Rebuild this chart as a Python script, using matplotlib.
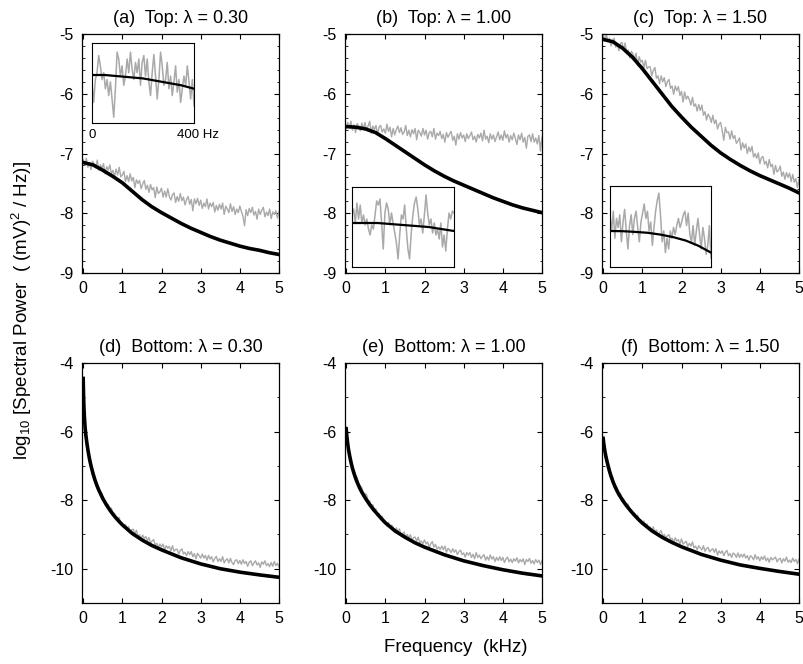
import numpy as np
import matplotlib
matplotlib.use("Agg")
import matplotlib.pyplot as plt
from matplotlib.ticker import MultipleLocator

plt.rcParams.update({
    "font.family": ["Liberation Sans", "DejaVu Sans"],
    "mathtext.fontset": "custom",
    "mathtext.rm": "Liberation Sans",
    "mathtext.it": "Liberation Sans:italic",
    "axes.unicode_minus": False,
    "font.size": 11,
    "xtick.direction": "in", "ytick.direction": "in",
    "xtick.top": True, "ytick.right": True,
    "axes.linewidth": 0.9,
})

# ---- measured spectra (grey), sampled every 0.04 kHz ----
freq = np.linspace(0, 5, 126)

spec_a = [-7.10, -7.19, -7.08, -7.23, -7.16, -7.27, -7.13, -7.18, -7.24, -7.11,
          -7.28, -7.19, -7.25, -7.17, -7.34, -7.22, -7.28, -7.19, -7.34, -7.28,
          -7.39, -7.26, -7.36, -7.23, -7.39, -7.36, -7.30, -7.47, -7.37, -7.47,
          -7.34, -7.46, -7.40, -7.57, -7.44, -7.50, -7.45, -7.59, -7.51, -7.45,
          -7.60, -7.53, -7.65, -7.52, -7.61, -7.57, -7.74, -7.56, -7.67, -7.64,
          -7.58, -7.73, -7.63, -7.73, -7.59, -7.72, -7.78, -7.69, -7.66, -7.82,
          -7.72, -7.80, -7.67, -7.79, -7.73, -7.86, -7.77, -7.72, -7.85, -7.77,
          -7.96, -7.76, -7.84, -7.75, -7.87, -7.78, -7.92, -7.83, -7.89, -7.76,
          -7.93, -7.83, -7.89, -7.82, -7.98, -7.87, -7.95, -7.85, -7.93, -7.83,
          -8.02, -7.88, -7.93, -7.99, -7.84, -7.97, -7.89, -8.02, -7.93, -7.99,
          -7.88, -7.97, -8.05, -8.21, -7.94, -8.04, -7.92, -7.99, -7.90, -8.03,
          -7.97, -8.10, -7.93, -8.02, -7.95, -7.90, -8.06, -7.98, -8.04, -7.93,
          -8.09, -7.98, -8.02, -7.96, -8.08, -7.97]
spec_b = [-6.59, -6.48, -6.57, -6.46, -6.61, -6.52, -6.65, -6.50, -6.54, -6.62,
          -6.49, -6.59, -6.48, -6.61, -6.54, -6.46, -6.66, -6.54, -6.60, -6.53,
          -6.68, -6.56, -6.53, -6.64, -6.59, -6.66, -6.51, -6.63, -6.56, -6.72,
          -6.58, -6.69, -6.60, -6.54, -6.65, -6.57, -6.68, -6.64, -6.53, -6.70,
          -6.61, -6.72, -6.60, -6.67, -6.58, -6.77, -6.61, -6.65, -6.71, -6.58,
          -6.69, -6.61, -6.76, -6.65, -6.63, -6.72, -6.58, -6.76, -6.66, -6.70,
          -6.63, -6.75, -6.68, -6.81, -6.65, -6.73, -6.67, -6.63, -6.78, -6.71,
          -6.86, -6.67, -6.76, -6.65, -6.74, -6.69, -6.80, -6.67, -6.75, -6.70,
          -6.64, -6.77, -6.71, -6.81, -6.68, -6.74, -6.66, -6.79, -6.61, -6.76,
          -6.71, -6.82, -6.67, -6.76, -6.69, -6.80, -6.72, -6.64, -6.77, -6.69,
          -6.78, -6.62, -6.74, -6.68, -6.81, -6.70, -6.77, -6.66, -6.75, -6.85,
          -6.69, -6.77, -6.66, -6.81, -6.73, -6.91, -6.71, -6.69, -6.80, -6.67,
          -6.81, -6.74, -6.84, -6.70, -6.96, -6.73]
spec_c = [-5.01, -5.12, -5.00, -5.13, -5.07, -5.20, -5.11, -5.07, -5.22, -5.17,
          -5.28, -5.16, -5.14, -5.26, -5.15, -5.33, -5.27, -5.40, -5.29, -5.33,
          -5.42, -5.32, -5.53, -5.38, -5.47, -5.44, -5.57, -5.44, -5.58, -5.55,
          -5.55, -5.70, -5.61, -5.56, -5.74, -5.70, -5.83, -5.70, -5.80, -5.73,
          -5.88, -5.80, -5.76, -5.91, -5.87, -6.01, -5.87, -5.95, -5.88, -6.03,
          -5.96, -6.14, -5.97, -6.09, -6.04, -6.10, -6.19, -6.06, -6.21, -6.17,
          -6.29, -6.18, -6.28, -6.19, -6.36, -6.30, -6.44, -6.34, -6.39, -6.48,
          -6.36, -6.50, -6.44, -6.59, -6.51, -6.48, -6.62, -6.78, -6.56, -6.65,
          -6.64, -6.76, -6.62, -6.75, -6.70, -6.83, -6.79, -6.74, -6.94, -6.82,
          -6.91, -6.84, -7.00, -6.89, -6.97, -6.88, -7.06, -7.00, -7.08, -6.99,
          -7.17, -7.07, -7.05, -7.18, -7.13, -7.24, -7.10, -7.22, -7.18, -7.35,
          -7.20, -7.31, -7.28, -7.21, -7.38, -7.31, -7.43, -7.32, -7.40, -7.33,
          -7.47, -7.35, -7.48, -7.42, -7.57, -7.44]
spec_d = [-4.50, -5.65, -6.21, -6.47, -6.88, -7.01, -7.26, -7.34, -7.52, -7.57,
          -7.75, -7.76, -7.82, -8.00, -8.01, -8.16, -8.12, -8.26, -8.23, -8.38,
          -8.39, -8.54, -8.51, -8.51, -8.70, -8.66, -8.79, -8.71, -8.82, -8.77,
          -8.94, -8.86, -8.85, -8.99, -8.88, -9.06, -9.01, -9.14, -9.02, -9.12,
          -9.06, -9.18, -9.09, -9.26, -9.19, -9.15, -9.31, -9.26, -9.38, -9.28,
          -9.37, -9.28, -9.46, -9.33, -9.40, -9.35, -9.48, -9.33, -9.49, -9.44,
          -9.43, -9.57, -9.47, -9.42, -9.57, -9.52, -9.62, -9.50, -9.59, -9.50,
          -9.65, -9.56, -9.71, -9.55, -9.62, -9.69, -9.57, -9.69, -9.61, -9.75,
          -9.61, -9.72, -9.65, -9.80, -9.70, -9.64, -9.79, -9.71, -9.79, -9.65,
          -9.83, -9.75, -9.71, -9.83, -9.70, -9.82, -9.88, -9.76, -9.74, -9.85,
          -9.76, -9.87, -9.74, -9.85, -9.79, -9.93, -9.81, -9.77, -9.91, -9.83,
          -9.77, -9.89, -9.83, -9.96, -9.80, -9.87, -9.77, -9.91, -9.85, -9.94,
          -9.82, -9.93, -9.79, -9.91, -9.84, -9.95]
spec_e = [-5.85, -6.33, -6.65, -6.77, -7.03, -7.12, -7.29, -7.34, -7.53, -7.58,
          -7.64, -7.81, -7.81, -7.84, -8.02, -8.02, -8.17, -8.13, -8.27, -8.25,
          -8.45, -8.40, -8.51, -8.47, -8.65, -8.61, -8.76, -8.65, -8.78, -8.73,
          -8.79, -8.93, -8.81, -8.92, -8.84, -9.00, -8.97, -8.93, -9.08, -9.00,
          -9.10, -9.01, -9.18, -9.09, -9.08, -9.19, -9.08, -9.25, -9.19, -9.27,
          -9.16, -9.28, -9.22, -9.38, -9.27, -9.21, -9.37, -9.29, -9.43, -9.36,
          -9.44, -9.34, -9.44, -9.34, -9.52, -9.41, -9.45, -9.53, -9.42, -9.52,
          -9.45, -9.59, -9.50, -9.46, -9.59, -9.54, -9.66, -9.53, -9.60, -9.53,
          -9.67, -9.58, -9.71, -9.53, -9.67, -9.60, -9.71, -9.64, -9.59, -9.75,
          -9.65, -9.75, -9.60, -9.72, -9.65, -9.79, -9.67, -9.76, -9.65, -9.76,
          -9.67, -9.82, -9.72, -9.66, -9.80, -9.72, -9.82, -9.71, -9.78, -9.68,
          -9.83, -9.73, -9.80, -9.71, -9.88, -9.73, -9.79, -9.70, -9.84, -9.76,
          -9.86, -9.73, -9.82, -9.75, -9.88, -9.76]
spec_f = [-6.15, -6.56, -6.70, -6.94, -7.03, -7.26, -7.32, -7.53, -7.58, -7.66,
          -7.82, -7.80, -7.97, -7.96, -8.13, -8.11, -8.12, -8.29, -8.28, -8.42,
          -8.38, -8.51, -8.44, -8.62, -8.58, -8.68, -8.61, -8.73, -8.69, -8.86,
          -8.78, -8.91, -8.78, -8.93, -8.87, -9.03, -8.95, -8.89, -9.05, -9.00,
          -9.11, -9.04, -9.01, -9.15, -9.11, -9.23, -9.10, -9.20, -9.15, -9.28,
          -9.13, -9.28, -9.24, -9.20, -9.35, -9.26, -9.34, -9.22, -9.39, -9.34,
          -9.45, -9.33, -9.39, -9.45, -9.33, -9.49, -9.41, -9.38, -9.51, -9.45,
          -9.42, -9.52, -9.42, -9.60, -9.48, -9.55, -9.48, -9.62, -9.52, -9.47,
          -9.62, -9.56, -9.67, -9.54, -9.58, -9.67, -9.54, -9.67, -9.58, -9.66,
          -9.57, -9.69, -9.62, -9.75, -9.62, -9.66, -9.74, -9.59, -9.72, -9.65,
          -9.77, -9.65, -9.73, -9.63, -9.77, -9.69, -9.81, -9.67, -9.74, -9.70,
          -9.66, -9.80, -9.72, -9.70, -9.83, -9.71, -9.78, -9.66, -9.81, -9.75,
          -9.82, -9.69, -9.79, -9.73, -9.85, -9.72]

# ---- model curves (black) ----
fit_f_top = [0, 0.25, 0.5, 0.75, 1, 1.25, 1.5, 1.75, 2, 2.25, 2.5,
             2.75, 3, 3.25, 3.5, 3.75, 4, 4.25, 4.5, 4.75, 5]
fit_a = [-7.15, -7.19, -7.28, -7.38, -7.49, -7.63, -7.77, -7.89, -7.99, -8.08, -8.17,
         -8.25, -8.32, -8.39, -8.45, -8.50, -8.55, -8.59, -8.62, -8.66, -8.69]
fit_b = [-6.55, -6.56, -6.59, -6.65, -6.75, -6.86, -6.97, -7.08, -7.19, -7.29, -7.38,
         -7.46, -7.53, -7.60, -7.67, -7.74, -7.80, -7.86, -7.91, -7.95, -7.99]
fit_c = [-5.09, -5.13, -5.24, -5.39, -5.58, -5.79, -6.00, -6.21, -6.39, -6.56, -6.71,
         -6.86, -6.99, -7.10, -7.20, -7.29, -7.37, -7.44, -7.51, -7.58, -7.66]
fit_f_bot = [0, 0.01, 0.02, 0.03, 0.05, 0.07, 0.1, 0.13, 0.16, 0.2, 0.25, 0.3, 0.35, 0.4,
             0.5, 0.6, 0.7, 0.8, 0.9, 1.0, 1.25, 1.5, 1.75, 2.0, 2.5, 3.0, 3.5, 4.0, 4.5, 5.0]
fit_d = [-4.45, -4.95, -5.30, -5.55, -5.90, -6.12, -6.38, -6.60, -6.79, -7.00, -7.22, -7.41,
         -7.57, -7.71, -7.95, -8.15, -8.32, -8.47, -8.60, -8.72, -8.97, -9.16, -9.32, -9.45,
         -9.68, -9.86, -10.00, -10.10, -10.18, -10.25]
fit_e = [-5.92, -6.05, -6.17, -6.27, -6.45, -6.59, -6.77, -6.93, -7.07, -7.22, -7.39, -7.53,
         -7.66, -7.77, -7.96, -8.13, -8.28, -8.41, -8.54, -8.66, -8.90, -9.08, -9.24, -9.37,
         -9.59, -9.77, -9.91, -10.03, -10.13, -10.21]
fit_fb = [-6.20, -6.30, -6.39, -6.47, -6.61, -6.73, -6.88, -7.02, -7.15, -7.30, -7.46, -7.60,
          -7.72, -7.83, -8.01, -8.17, -8.31, -8.44, -8.56, -8.67, -8.90, -9.08, -9.23, -9.36,
          -9.58, -9.75, -9.89, -9.99, -10.08, -10.16]

# ---- insets: first 400 Hz ----
ins_a = [-7.18, -7.36, -7.16, -7.10, -6.95, -7.04, -7.16, -7.10, -7.24, -7.16, -7.30,
         -7.18, -7.33, -7.49, -7.24, -6.92, -6.98, -7.13, -7.04, -7.21, -7.13, -6.98,
         -7.10, -6.92, -7.07, -7.16, -7.01, -7.10, -6.98, -7.21, -7.01, -6.95, -7.13,
         -6.98, -7.18, -7.30, -7.10, -6.94, -7.13, -7.33, -7.16, -6.92, -7.04, -7.21,
         -7.16, -7.01, -7.24, -7.13, -7.30, -7.18, -7.04, -7.27, -7.16, -7.36, -7.24,
         -7.13, -7.21, -7.04, -7.18, -7.33, -7.16, -7.39]
ins_b = [-6.51, -6.48, -6.55, -6.45, -6.53, -6.46, -6.55, -6.51, -6.56, -6.53, -6.58,
         -6.61, -6.56, -6.58, -6.51, -6.44, -6.46, -6.43, -6.55, -6.68, -6.50, -6.45,
         -6.48, -6.56, -6.50, -6.55, -6.60, -6.65, -6.73, -6.61, -6.51, -6.53, -6.46,
         -6.58, -6.68, -6.73, -6.60, -6.51, -6.45, -6.42, -6.48, -6.56, -6.53, -6.60,
         -6.51, -6.41, -6.50, -6.56, -6.53, -6.60, -6.55, -6.61, -6.58, -6.63, -6.55,
         -6.67, -6.61, -6.69, -6.58, -6.50, -6.53, -6.49, -6.50]
ins_c = [-5.00, -5.09, -4.98, -5.13, -5.02, -5.07, -5.00, -5.15, -5.04, -4.97, -5.09,
         -5.19, -5.06, -5.00, -5.11, -5.02, -4.98, -5.07, -5.15, -5.04, -4.99, -4.94,
         -5.02, -4.98, -5.09, -5.04, -5.17, -5.07, -4.98, -4.92, -4.88, -5.00, -5.15,
         -5.09, -5.21, -5.13, -5.19, -5.09, -5.13, -5.07, -5.11, -5.06, -5.02, -5.07,
         -5.04, -5.00, -4.98, -5.06, -4.99, -5.11, -5.15, -5.06, -5.17, -5.09, -5.02,
         -5.11, -5.19, -5.07, -5.13, -5.22, -5.17, -5.06, -5.24]
ins_fit_hz = [0, 50, 100, 150, 200, 250, 300, 350, 400]
ins_fit_a = [-7.12, -7.12, -7.13, -7.14, -7.15, -7.17, -7.19, -7.21, -7.24]
ins_fit_b = [-6.55, -6.55, -6.55, -6.555, -6.56, -6.565, -6.57, -6.58, -6.59]
ins_fit_c = [-5.09, -5.091, -5.095, -5.10, -5.11, -5.124, -5.143, -5.172, -5.21]
ins_ylim = [(-7.54, -6.84), (-6.77, -6.37), (-5.29, -4.84)]

titles = ["(a)  Top: λ = 0.30", "(b)  Top: λ = 1.00", "(c)  Top: λ = 1.50",
          "(d)  Bottom: λ = 0.30", "(e)  Bottom: λ = 1.00", "(f)  Bottom: λ = 1.50"]
GREY = "#a9a9a9"

W, H = 804, 664
fig = plt.figure(figsize=(W / 100, H / 100), dpi=100)
lefts = [82, 345, 602]
pw = 197
rows = [(34, 273), (363, 603)]

top_specs = [spec_a, spec_b, spec_c]
top_fits = [fit_a, fit_b, fit_c]
bot_specs = [spec_d, spec_e, spec_f]
bot_fits = [fit_d, fit_e, fit_fb]

for r, (y0, y1) in enumerate(rows):
    for c, x0 in enumerate(lefts):
        ax = fig.add_axes([x0 / W, 1 - y1 / H, pw / W, (y1 - y0) / H])
        if r == 0:
            ax.plot(freq, top_specs[c], color=GREY, lw=1.0, zorder=2)
            ax.plot(fit_f_top, top_fits[c], color="black", lw=2.6, zorder=3)
            ax.set_ylim(-9, -5)
            ax.set_yticks([-9, -8, -7, -6, -5])
            ax.yaxis.set_minor_locator(MultipleLocator(0.2))
        else:
            ax.plot(freq, bot_specs[c], color=GREY, lw=1.0, zorder=2)
            ax.plot(fit_f_bot, bot_fits[c], color="black", lw=2.6, zorder=3)
            ax.set_ylim(-11, -4)
            ax.set_yticks([-10, -8, -6, -4])
            ax.yaxis.set_minor_locator(MultipleLocator(1))
        ax.set_xlim(-0.03, 5.0)
        ax.set_xticks([0, 1, 2, 3, 4, 5])
        ax.tick_params(which="major", length=3.5, width=0.8, labelsize=11.5, pad=6)
        ax.tick_params(which="minor", length=1.8, width=0.6)
        ax.tick_params(axis="x", which="minor", bottom=False, top=False)
        ax.set_title(titles[r * 3 + c], fontsize=13, pad=8)

# insets
ins_boxes = [(92, 43, 194, 123), (352, 187, 454, 267), (610, 186, 711, 267)]
ins_data = [ins_a, ins_b, ins_c]
ins_fits = [ins_fit_a, ins_fit_b, ins_fit_c]
for i, (x0, y0, x1, y1) in enumerate(ins_boxes):
    ia = fig.add_axes([x0 / W, 1 - y1 / H, (x1 - x0) / W, (y1 - y0) / H])
    hz = np.linspace(0, 400, len(ins_data[i]))
    ia.plot(hz, ins_data[i], color=GREY, lw=1.1)
    ia.plot(ins_fit_hz, ins_fits[i], color="black", lw=1.6)
    ia.set_xlim(0, 400)
    ia.set_ylim(*ins_ylim[i])
    ia.set_xticks([]); ia.set_yticks([])
    for s in ia.spines.values():
        s.set_linewidth(0.8)
    if i == 0:
        ia.text(0.0, -0.08, "0", transform=ia.transAxes, ha="center", va="top", fontsize=9.5)
        ia.text(0.83, -0.08, "400 Hz", transform=ia.transAxes, ha="left", va="top", fontsize=9.5)

fig.text(22 / W, 1 - 311 / H,
         r"log$_{\mathregular{10}}$ [Spectral Power  ( (mV)$^{\mathregular{2}}$ / Hz)]",
         rotation=90, ha="center", va="center", fontsize=13.5)
fig.text(456 / W, 1 - 648 / H, "Frequency  (kHz)", ha="center", va="center", fontsize=13.5)

fig.savefig("out.png", dpi=100)
